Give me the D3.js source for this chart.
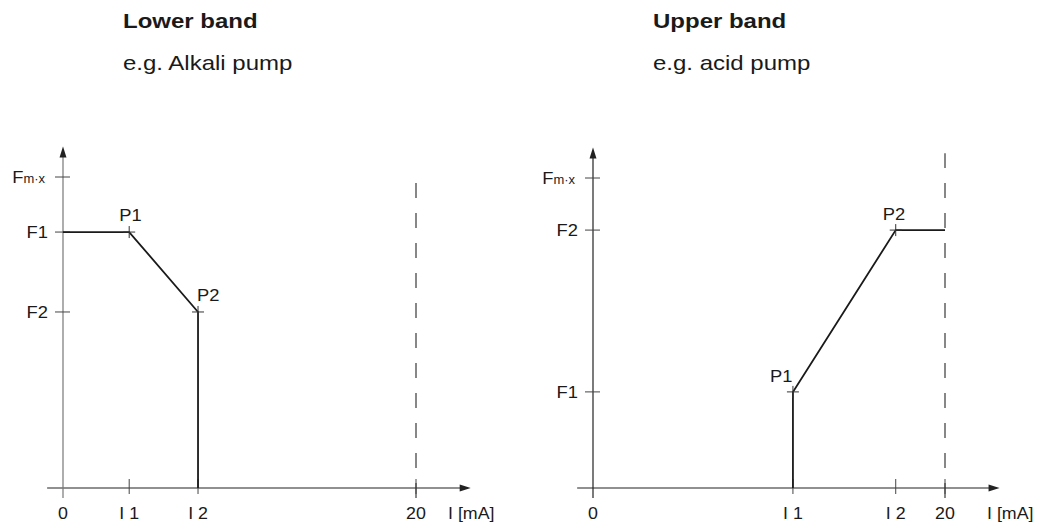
<!DOCTYPE html>
<html>
<head>
<meta charset="utf-8">
<script src="https://cdn.jsdelivr.net/npm/d3@7"></script>
<style>
  html, body { margin: 0; padding: 0; background: #fff; }
  svg { display: block; font-family: "Liberation Sans", Arial, Helvetica, sans-serif; }
</style>
</head>
<body>
<svg id="chart" width="1044" height="524"></svg>
<script>
// ---- Data ----
const xAxisTitle = "I [mA]";
const xDomain = [0, 20];
const yDomain = [0, 10];

// Lower band
const lowerTitle = "Lower band";
const lowerSubtitle = "e.g. Alkali pump";
const lowerXTickValues = [0, 3.75, 7.65, 20];
const lowerXTickLabels = ["0", "I 1", "I 2", "20"];
const lowerYTickValues = [10, 8.23, 5.66];
const lowerYTickLabels = ["Fmax", "F1", "F2"];
const lowerCurveI = [0, 3.75, 7.65, 7.65];
const lowerCurveF = [8.23, 8.23, 5.66, 0];
const lowerPointNames = ["P1", "P2"];
const lowerPointIdx = [1, 2];

// Upper band
const upperTitle = "Upper band";
const upperSubtitle = "e.g. acid pump";
const upperXTickValues = [0, 11.36, 17.2, 20];
const upperXTickLabels = ["0", "I 1", "I 2", "20"];
const upperYTickValues = [10, 8.32, 3.1];
const upperYTickLabels = ["Fmax", "F2", "F1"];
const upperCurveI = [11.36, 11.36, 17.2, 20];
const upperCurveF = [0, 3.1, 8.32, 8.32];
const upperPointNames = ["P1", "P2"];
const upperPointIdx = [1, 2];

// ---- Layout ----
const SX = 1.2;   // horizontal glyph stretch of the titles
const SXS = 1.08; // stretch of the small labels
const svg = d3.select("#chart");

const panels = [
  {
    title: lowerTitle, subtitle: lowerSubtitle, titleX: 123,
    xRange: [63, 416], yRange: [488, 177],
    xt: lowerXTickValues, xl: lowerXTickLabels,
    yt: lowerYTickValues, yl: lowerYTickLabels,
    ci: lowerCurveI, cf: lowerCurveF,
    pn: lowerPointNames, pi: lowerPointIdx,
    pOff: [[-10, -11], [-1, -11]],
    yAxisColor: "#777", dashTop: 9.84, unitX: 448
  },
  {
    title: upperTitle, subtitle: upperSubtitle, titleX: 653,
    xRange: [593, 945], yRange: [488, 178],
    xt: upperXTickValues, xl: upperXTickLabels,
    yt: upperYTickValues, yl: upperYTickLabels,
    ci: upperCurveI, cf: upperCurveF,
    pn: upperPointNames, pi: upperPointIdx,
    pOff: [[-23, -10], [-13, -10]],
    yAxisColor: "#222", dashTop: 10.8, unitX: 987
  }
];

function txt(g, x, y, str, size, weight, anchor, sx) {
  return g.append("text")
    .attr("transform", `translate(${x},${y}) scale(${sx || SXS},1)`)
    .attr("font-size", size)
    .attr("font-weight", weight || "normal")
    .attr("text-anchor", anchor || "start")
    .attr("fill", "#1a1a1a")
    .text(str);
}

panels.forEach(p => {
  const g = svg.append("g");
  const x = d3.scaleLinear().domain(xDomain).range(p.xRange);
  const y = d3.scaleLinear().domain(yDomain).range(p.yRange);

  // Titles
  txt(g, p.titleX, 28, p.title, 20, "bold", "start", SX);
  txt(g, p.titleX, 70, p.subtitle, 20, "normal", "start", SX);

  const x0 = x(0), y0 = y(0);
  const xMin = x(-0.9), xMax = x(23.1);
  const yTop = y(10.98), yBot = y(-0.32);

  // Dashed 20 mA limit, drawn from the bottom upward
  g.append("line")
    .attr("x1", x(20)).attr("x2", x(20))
    .attr("y1", yBot).attr("y2", y(p.dashTop))
    .attr("stroke", "#555").attr("stroke-width", 1.4)
    .attr("stroke-dasharray", "15,15");

  // X axis
  g.append("line").attr("x1", xMin).attr("x2", xMax - 6)
    .attr("y1", y0).attr("y2", y0)
    .attr("stroke", "#222").attr("stroke-width", 1.2);
  g.append("path")
    .attr("d", `M${xMax},${y0} L${xMax - 11},${y0 - 3.5} L${xMax - 11},${y0 + 3.5} Z`)
    .attr("fill", "#222");

  // Y axis
  g.append("line").attr("x1", x0).attr("x2", x0)
    .attr("y1", yBot).attr("y2", yTop + 6)
    .attr("stroke", p.yAxisColor).attr("stroke-width", 1.2);
  g.append("path")
    .attr("d", `M${x0},${yTop} L${x0 - 3.5},${yTop + 11} L${x0 + 3.5},${yTop + 11} Z`)
    .attr("fill", "#222");

  // X ticks + labels
  p.xt.forEach((v, i) => {
    if (v !== 0) {
      g.append("line").attr("x1", x(v)).attr("x2", x(v))
        .attr("y1", y0 - 9).attr("y2", y0 + 6)
        .attr("stroke", "#444").attr("stroke-width", 1);
    }
    txt(g, x(v), 519, p.xl[i], 16.5, "normal", "middle");
  });
  txt(g, p.unitX, 519, xAxisTitle, 16.5, "normal", "start");

  // Y ticks + labels
  p.yt.forEach((v, i) => {
    g.append("line").attr("x1", x0 - 8).attr("x2", x0 + 7)
      .attr("y1", y(v)).attr("y2", y(v))
      .attr("stroke", "#444").attr("stroke-width", 1);
    const lab = p.yl[i];
    if (lab === "Fmax") {
      const t = g.append("text")
        .attr("transform", `translate(${x0 - 18},${y(v) + 6}) scale(${SXS},1)`)
        .attr("text-anchor", "end").attr("fill", "#1a1a1a");
      t.append("tspan").attr("font-size", 17).text("F");
      t.append("tspan").attr("font-size", 12).text("m·x");
    } else {
      txt(g, x0 - 15, y(v) + 6, lab, 17, "normal", "end");
    }
  });

  // Curve
  const pts = p.ci.map((v, i) => [x(v), y(p.cf[i])]);
  g.append("path")
    .attr("d", d3.line()(pts))
    .attr("fill", "none").attr("stroke", "#1a1a1a")
    .attr("stroke-width", 1.8).attr("stroke-linejoin", "miter");

  // Point crosses + labels
  p.pi.forEach((idx, k) => {
    const px = x(p.ci[idx]), py = y(p.cf[idx]);
    g.append("line").attr("x1", px - 6).attr("x2", px + 6)
      .attr("y1", py).attr("y2", py).attr("stroke", "#333").attr("stroke-width", 1);
    g.append("line").attr("x1", px).attr("x2", px)
      .attr("y1", py - 6).attr("y2", py + 6).attr("stroke", "#333").attr("stroke-width", 1);
    txt(g, px + p.pOff[k][0], py + p.pOff[k][1], p.pn[k], 17, "normal", "start");
  });
});
</script>
</body>
</html>
